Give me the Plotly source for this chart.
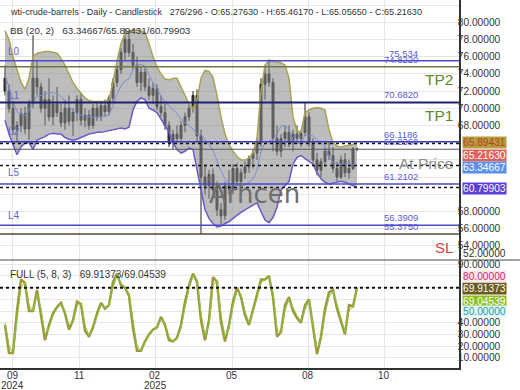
import plotly.graph_objects as go

# ---------------- data ----------------
bar_index = list(range(89))

opens = [73.5, 72.0, 70.0, 67.5, 68.0, 69.4, 67.6, 70.5, 73.5, 72.5,
         70.0, 71.0, 69.0, 70.5, 69.5, 68.3, 70.0, 68.5, 69.5, 71.0,
         68.6, 69.2, 68.0, 70.0, 69.0, 70.3, 69.6, 71.2, 73.0, 74.5,
         76.5, 78.0, 76.5, 75.0, 73.0, 74.2, 72.5, 71.5, 72.3, 70.2,
         69.5, 68.0, 66.0, 67.0, 66.5, 68.0, 69.0, 70.0, 71.5, 66.8,
         62.0, 61.0, 62.3, 60.5, 58.2, 57.5, 61.0, 60.6, 63.0, 61.5,
         62.5, 63.2, 64.2, 64.8, 66.0, 72.8, 74.0, 73.0, 66.5, 65.0,
         66.5, 67.2, 66.0, 67.0, 66.5, 67.2, 69.0, 66.0, 64.0, 62.8,
         63.8, 65.0, 64.5, 63.0, 62.0, 64.0, 62.5, 63.0, 65.2763]
highs = [75.0, 72.8, 70.8, 68.5, 70.0, 70.2, 71.0, 78.5, 75.5, 73.0,
         72.0, 73.5, 71.5, 72.5, 70.5, 71.0, 71.5, 70.0, 71.5, 71.8,
         70.0, 69.8, 70.5, 70.8, 70.8, 71.0, 71.5, 73.5, 75.0, 77.0,
         79.3, 79.0, 77.5, 76.0, 74.8, 74.8, 73.5, 73.0, 72.8, 71.5,
         70.5, 68.5, 67.5, 68.0, 68.5, 69.5, 70.5, 72.0, 72.2, 67.5,
         63.5, 62.8, 63.0, 61.5, 59.0, 61.5, 62.8, 63.5, 63.6, 63.0,
         63.8, 64.5, 65.2, 66.5, 73.5, 75.0, 75.534, 73.5, 68.0, 67.0,
         68.0, 68.0, 67.5, 68.0, 67.5, 70.682, 69.5, 66.5, 64.8, 64.2,
         65.5, 66.2, 65.5, 63.8, 64.5, 64.8, 64.0, 65.5, 65.4617]
lows = [71.5, 69.5, 67.0, 66.0, 67.2, 67.0, 66.3, 70.0, 71.5, 69.5,
        68.0, 68.5, 68.0, 69.0, 67.8, 67.5, 68.0, 66.8, 68.5, 68.0,
        67.8, 67.5, 67.6, 68.5, 68.5, 69.0, 69.2, 70.8, 72.5, 74.0,
        75.5, 76.0, 74.5, 72.5, 72.0, 72.0, 71.0, 70.5, 69.8, 69.0,
        67.5, 65.5, 65.3, 66.0, 66.2, 67.2, 68.5, 69.5, 66.0, 55.375,
        60.0, 59.5, 60.0, 57.5, 56.5, 57.0, 60.0, 60.0, 61.0, 60.8,
        61.8, 62.5, 63.0, 64.0, 65.5, 71.0, 72.5, 65.0, 64.5, 64.3,
        65.5, 65.5, 65.0, 66.0, 65.5, 66.8, 65.5, 63.5, 62.2, 62.0,
        63.2, 64.0, 62.5, 61.5, 61.8, 62.0, 61.8, 62.8, 65.0565]
closes = [72.0, 70.0, 67.5, 68.0, 69.4, 67.6, 70.5, 73.5, 72.5, 70.0,
          71.0, 69.0, 70.5, 69.5, 68.3, 70.0, 68.5, 69.5, 71.0, 68.6,
          69.2, 68.0, 70.0, 69.0, 70.3, 69.6, 71.2, 73.0, 74.5, 76.5,
          78.0, 76.5, 75.0, 73.0, 74.2, 72.5, 71.5, 72.3, 70.2, 69.5,
          68.0, 66.0, 67.0, 66.5, 68.0, 69.0, 70.0, 71.5, 66.8, 62.0,
          61.0, 62.3, 60.5, 58.2, 57.5, 61.0, 60.6, 63.0, 61.5, 62.5,
          63.2, 64.2, 64.8, 66.0, 72.8, 74.0, 73.0, 66.5, 65.0, 66.5,
          67.2, 66.0, 67.0, 66.5, 67.2, 69.0, 66.0, 64.0, 62.8, 63.8,
          65.0, 64.5, 63.0, 62.0, 64.0, 62.5, 63.0, 65.3, 65.2163]

bb_upper = [79.0, 78.0, 76.0, 74.5, 73.0, 72.2, 73.5, 76.0, 76.4, 76.5,
            76.6, 76.6, 76.5, 76.4, 75.8, 75.0, 74.0, 73.0, 72.3, 71.8,
            71.2, 70.9, 70.8, 70.8, 70.8, 70.8, 71.0, 73.0, 75.5, 77.5,
            78.7, 79.0, 79.1, 79.1, 79.0, 78.8, 77.5, 76.0, 74.8, 74.0,
            73.4, 73.3, 73.5, 73.5, 72.5, 71.5, 70.5, 70.0, 71.0, 73.5,
            74.4, 74.3, 73.6, 71.5, 69.0, 67.0, 65.8, 65.0, 64.4, 64.0,
            64.0, 64.2, 64.8, 66.5, 72.0, 75.0, 75.6, 75.5, 75.4, 75.3,
            75.0, 73.5, 69.0, 67.4, 67.2, 69.5, 69.8, 70.0, 70.1, 70.0,
            69.8, 67.5, 66.0, 65.6, 65.5, 65.6, 65.7, 65.8, 65.89431]
bb_lower = [68.6, 67.0, 65.8, 64.6, 65.5, 66.0, 66.0, 65.2, 66.3, 66.5,
            66.7, 67.0, 67.1, 67.0, 67.0, 66.6, 66.4, 66.3, 66.4, 66.6,
            66.8, 67.0, 67.1, 67.2, 67.2, 67.3, 67.4, 67.5, 67.6, 67.7,
            67.6, 67.8, 69.8, 70.8, 71.2, 71.0, 70.0, 69.8, 69.5, 68.8,
            68.0, 67.2, 66.0, 65.2, 64.8, 65.0, 65.4, 65.2, 63.0, 60.5,
            58.2, 57.2, 56.6, 56.2, 56.3, 56.6, 56.8, 57.2, 57.6, 57.9,
            58.2, 58.5, 58.8, 59.0, 58.0, 57.0, 56.7, 57.3, 58.5, 60.5,
            61.0, 61.5, 63.5, 64.3, 64.5, 64.2, 63.8, 63.5, 62.5, 61.8,
            61.4, 61.2, 61.3, 61.4, 61.5, 61.4, 61.2, 61.0, 60.79903]
bb_mid = [73.8, 72.5, 70.9, 69.6, 69.3, 69.1, 69.8, 70.6, 71.4, 71.5,
          71.7, 71.8, 71.8, 71.7, 71.4, 70.8, 70.2, 69.7, 69.4, 69.2,
          69.0, 69.0, 69.0, 69.0, 69.0, 69.1, 69.2, 70.3, 71.6, 72.6,
          73.2, 73.4, 74.5, 75.0, 75.1, 74.9, 73.8, 72.9, 72.2, 71.4,
          70.7, 70.3, 69.8, 69.4, 68.7, 68.3, 68.0, 67.6, 67.0, 67.0,
          66.3, 65.8, 65.1, 63.9, 62.7, 61.8, 61.3, 61.1, 61.0, 61.0,
          61.1, 61.4, 61.8, 62.8, 65.0, 66.0, 66.2, 66.4, 67.0, 67.9,
          68.0, 67.5, 66.3, 65.9, 65.9, 66.9, 66.8, 66.8, 66.3, 65.9,
          65.6, 64.4, 63.7, 63.5, 63.5, 63.5, 63.5, 63.4, 63.34667]

stoch_k = [38, 14, 14, 50, 77, 74, 50, 50, 68, 48,
           25, 38, 48, 53.5, 57, 48, 34, 42, 58, 56,
           33, 28, 36, 48, 57, 52, 55, 75, 82, 72,
           70, 63, 35, 16, 16, 24, 30, 34, 36, 45,
           38, 25, 24, 27, 38, 58, 72, 82, 75, 42,
           25, 42, 79, 75, 40, 24, 38, 58, 70, 62,
           46, 38, 52, 64, 77, 77, 80, 62, 28, 32,
           55, 62, 50, 44, 40, 55, 60, 35, 13, 28,
           52, 66, 68, 52, 40, 30, 55, 54, 69.91373]
stoch_d = [40, 20, 14, 42, 70, 75, 55, 50, 64, 52,
           30, 35, 46, 52, 56, 50, 38, 40, 54, 57,
           38, 29, 34, 45, 55, 53, 54, 70, 80, 74,
           70, 65, 41, 20, 16, 22, 29, 33, 36, 43,
           40, 28, 24, 26, 35, 53, 69, 80, 77, 48,
           29, 38, 72, 76, 47, 28, 35, 54, 67, 64,
           50, 40, 49, 61, 74, 77, 79, 66, 35, 31,
           50, 60, 53, 46, 41, 51, 59, 40, 18, 25,
           47, 62, 67, 56, 43, 32, 50, 54, 69.04539]

tick_bars = [1.875, 18.5, 37.6, 56.75, 75.8, 94.75]
tick_months = ["09", "11", "02", "05", "08", "10"]
tick_years = ["2024", "", "2025", "", "", ""]

level_values = [75.534, 74.822, 70.682, 66.1186, 65.236, 61.2102, 56.3909, 55.375]
level_texts = ["75.534", "74.8220", "70.6820", "66.1186", "65.2360", "61.2102", "56.3909", "55.3750"]
main_ticks = [54, 56, 58, 68, 70, 72, 74, 76, 78, 80, 82]
osc_ticks = [10, 20, 30, 40, 90]

title_text = ("wti-crude-barrels - Daily - Candlestick\u00a0\u00a0\u00a0276/296 - O:65.27630 - "
              "H:65.46170 - L:65.05650 - C:65.21630")

# ---------------- styling helpers ----------------
PW, PH = 459, 368


def px(x):
    return x / PW


def py(y):
    return 1 - y / PH


level_colors = ["#4b4bc8", "#707a3c", "#1f1f70", "#3d3dc2", "#5a5a5a", "#4b4bc8", "#4b4bc8", "#5a4636"]
level_widths = [1.5, 1.5, 2, 1.5, 1, 1.5, 1.5, 1.5]

fig = go.Figure()
fig.add_trace(go.Scatter(x=bar_index, y=bb_upper, mode="lines", line=dict(color="#a6a452", width=1.5),
                         hoverinfo="skip"))
fig.add_trace(go.Scatter(x=bar_index, y=bb_lower, mode="lines", line=dict(color="#6a5acd", width=1.5),
                         fill="tonexty", fillcolor="rgba(135,135,135,0.55)", hoverinfo="skip"))
fig.add_trace(go.Scatter(x=bar_index, y=bb_mid, mode="lines", line=dict(color="#7c8cd8", width=1),
                         hoverinfo="skip"))
fig.add_trace(go.Candlestick(x=bar_index, open=opens, high=highs, low=lows, close=closes,
                             increasing=dict(line=dict(color="#222222", width=1), fillcolor="#3a3a3a"),
                             decreasing=dict(line=dict(color="#222222", width=1), fillcolor="#3a3a3a"),
                             whiskerwidth=0))
fig.add_trace(go.Scatter(x=bar_index, y=stoch_k, mode="lines", xaxis="x2", yaxis="y2",
                         line=dict(color="#9d9a3e", width=2.5)))
fig.add_trace(go.Scatter(x=bar_index, y=stoch_d, mode="lines", xaxis="x2", yaxis="y2",
                         line=dict(color="#8cc43c", width=1)))

shapes = []
for v, c, w in zip(level_values, level_colors, level_widths):
    shapes.append(dict(type="line", xref="paper", x0=0, x1=1, yref="y", y0=v, y1=v,
                       line=dict(color=c, width=w)))
for v in [bb_upper[-1], bb_mid[-1], bb_lower[-1]]:
    shapes.append(dict(type="line", xref="paper", x0=0, x1=1, yref="y", y0=v, y1=v,
                       line=dict(color="#111111", width=1.5, dash="3px,3px")))
shapes.append(dict(type="line", xref="paper", x0=0, x1=1, yref="y2", y0=stoch_k[-1], y1=stoch_k[-1],
                   line=dict(color="#111111", width=2, dash="3px,3px")))
shapes.append(dict(type="line", xref="paper", x0=0, x1=px(520), yref="paper", y0=py(260), y1=py(260),
                   line=dict(color="#444444", width=1)))

ann = []
font = "Liberation Sans, Arial, sans-serif"
ann.append(dict(text=title_text, xref="paper", yref="paper", x=px(8), y=py(12), xanchor="left",
                yanchor="middle", showarrow=False, font=dict(size=9.1, color="#333", family=font)))
ann.append(dict(text="BB (20, 2)\u00a0\u00a0\u00a0%.5f/%.5f/%.5f" % (bb_mid[-1], bb_upper[-1], bb_lower[-1]),
                xref="paper", yref="paper", x=px(8), y=py(30), xanchor="left", yanchor="middle",
                showarrow=False, font=dict(size=9.8, color="#333", family=font)))
ann.append(dict(text="FULL (5, 8, 3)\u00a0\u00a0\u00a0%.5f/%.5f" % (stoch_k[-1], stoch_d[-1]),
                xref="paper", yref="paper", x=px(8), y=py(274), xanchor="left", yanchor="middle",
                showarrow=False, font=dict(size=10, color="#333", family=font)))
for v, t in zip(level_values, level_texts):
    ann.append(dict(text=t, xref="paper", yref="y", x=px(420), y=v, xanchor="right", yanchor="bottom",
                    showarrow=False, font=dict(size=9.5, color="#5b5bd2", family=font)))
for t, y in [("L0", 51), ("L1", 95), ("L2", 131), ("L5", 173), ("L4", 215)]:
    ann.append(dict(text=t, xref="paper", yref="paper", x=px(6), y=py(y), xanchor="left", yanchor="middle",
                    showarrow=False, font=dict(size=10, color="#6464c8", family=font)))
for t, x, y, c, s in [("TP2", 439, 79, "#5e8a2c", 15.5), ("TP1", 439, 115, "#5e8a2c", 15.5),
                      ("At Price", 425.5, 163, "#8c8c8c", 15.5), ("SL", 443.5, 247, "#d2473a", 15)]:
    ann.append(dict(text=t, xref="paper", yref="paper", x=px(x), y=py(y), xanchor="center", yanchor="middle",
                    showarrow=False, font=dict(size=s, color=c, family=font)))
ann.append(dict(text="Arhcen", xref="paper", yref="paper", x=px(207), y=py(194), xanchor="left",
                yanchor="middle", showarrow=False, font=dict(size=26, color="#6e6e6e", family="DejaVu Sans")))
# x-axis month / year labels
for b, m, yr in zip(tick_bars, tick_months, tick_years):
    ann.append(dict(text=m, xref="x2", yref="paper", x=b, y=py(375.5), xanchor="center", yanchor="middle",
                    showarrow=False, font=dict(size=10, color="#333333", family=font)))
    if yr:
        ann.append(dict(text=yr, xref="x2", yref="paper", x=b, y=py(385), xanchor="center",
                        yanchor="middle", showarrow=False, font=dict(size=10, color="#333333", family=font)))
# right side value boxes
for t, y, bg, fc in [("%.5f" % bb_upper[-1], 142, "#b09f3c", "#c0392b"),
                     ("%.5f" % closes[-1], 155, "#e0605a", "#ffffff"),
                     ("%.5f" % bb_mid[-1], 167, "#5b8fea", "#ffffff"),
                     ("%.5f" % bb_lower[-1], 188, "#5b3fd8", "#ffffff"),
                     ("%.5f" % stoch_k[-1], 288, "#6b5a1c", "#ffffff"),
                     ("%.5f" % stoch_d[-1], 301, "#8dbf22", "#ffffff"),
                     ("80.00000", 276, "#fde6ee", "#c2306a"),
                     ("50.00000", 311, "#e0f8f8", "#2a9a9a"),
                     ("52.00000", 254, "rgba(0,0,0,0)", "#333333")]:
    ann.append(dict(text=t, xref="paper", yref="paper", x=px(462), y=py(y), xanchor="left", yanchor="middle",
                    showarrow=False, bgcolor=bg, borderpad=0,
                    font=dict(size=10.2, color=fc, family=font)))

grid = "#e6e6e6"
tickfont = dict(size=10.2, color="#333333", family=font)
fig.update_layout(
    width=520, height=390, margin=dict(l=0, r=61, t=0, b=22, autoexpand=False),
    paper_bgcolor="white", plot_bgcolor="white", showlegend=False,
    xaxis=dict(domain=[0, 1], range=[-1.25, 113.5], anchor="y", tickvals=tick_bars,
               showticklabels=False, showgrid=True, gridcolor=grid, zeroline=False, automargin=False,
               rangeslider=dict(visible=False)),
    yaxis=dict(domain=[py(260), 1], range=[52.36, 82.59], side="right", anchor="x", tickvals=main_ticks,
               tickformat=".5f", showgrid=False, zeroline=False, showline=True, automargin=False,
               linecolor="#333333", linewidth=1.5, ticks="", tickfont=tickfont),
    yaxis3=dict(domain=[py(260), 1], range=[52.36, 82.59], overlaying="y", side="right", anchor="x",
                dtick=2, tick0=0, showticklabels=False, showgrid=True, gridcolor=grid, zeroline=False,
                automargin=False),
    xaxis2=dict(domain=[0, 1], range=[-1.25, 113.5], anchor="y2", matches="x", tickvals=tick_bars,
                showticklabels=False, showgrid=True, gridcolor=grid, zeroline=False, showline=True,
                linecolor="#333333", linewidth=1.5, ticks="", automargin=False),
    yaxis2=dict(domain=[0, py(261)], range=[1.2, 92.8], side="right", anchor="x2", tickvals=osc_ticks,
                tickformat=".5f", showgrid=False, zeroline=False, showline=True, linecolor="#333333",
                linewidth=1.5, ticks="", tickfont=tickfont, automargin=False),
    yaxis4=dict(domain=[0, py(261)], range=[1.2, 92.8], overlaying="y2", side="right", anchor="x2",
                dtick=10, tick0=0, showticklabels=False, showgrid=True, gridcolor=grid, zeroline=False,
                automargin=False),
    shapes=shapes, annotations=ann,
)
# empty traces so the grid-only axes are drawn
fig.add_trace(go.Scatter(x=[], y=[], xaxis="x", yaxis="y3", showlegend=False))
fig.add_trace(go.Scatter(x=[], y=[], xaxis="x2", yaxis="y4", showlegend=False))
try:
    fig.update_layout(yaxis=dict(ticklabelstandoff=-5), yaxis2=dict(ticklabelstandoff=-5))
except Exception:
    pass

fig.write_html("out.html", config={"displayModeBar": False},
               post_script="document.body.style.margin='0px';")
